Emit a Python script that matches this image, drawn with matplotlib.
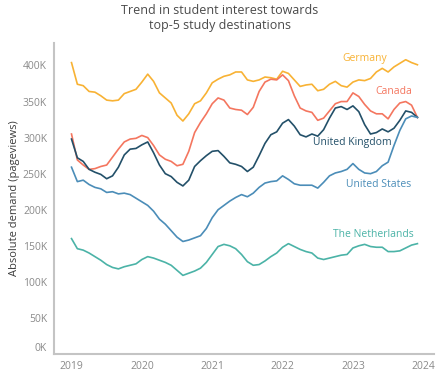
#!/usr/bin/env python3
"""Trend in student interest towards top-5 study destinations (monthly pageviews)."""
import matplotlib

matplotlib.use("Agg")
import matplotlib.pyplot as plt
from matplotlib.ticker import FuncFormatter

plt.rcParams["font.family"] = ["Open Sans", "DejaVu Sans"]

# monthly values, Jan 2019 .. Dec 2023, thousands of pageviews
months = [2019 + m / 12 for m in range(60)]

germany = [404, 374, 372, 364, 363, 358, 352, 351, 352, 361, 364, 367,
           377, 388, 378, 362, 355, 348, 331, 323, 333, 347, 351, 362,
           376, 381, 385, 387, 391, 391, 380, 378, 380, 384, 383, 381,
           392, 389, 380, 371, 373, 374, 365, 367, 374, 378, 372, 370,
           377, 380, 379, 382, 391, 396, 391, 398, 403, 408, 404, 401]
canada = [305, 269, 262, 256, 257, 260, 262, 273, 284, 294, 298, 299,
          303, 300, 289, 276, 270, 267, 261, 263, 281, 307, 321, 333,
          347, 355, 352, 341, 339, 338, 332, 342, 364, 377, 381, 380,
          387, 379, 358, 341, 337, 335, 324, 327, 337, 347, 350, 350,
          362, 357, 346, 337, 333, 333, 326, 339, 348, 350, 345, 328]
united_kingdom = [298, 272, 267, 256, 252, 249, 243, 247, 259, 276, 284, 285,
                  290, 294, 279, 262, 250, 246, 238, 233, 241, 260, 268, 275,
                  281, 282, 274, 265, 263, 260, 253, 259, 275, 292, 304, 308,
                  320, 325, 316, 304, 301, 305, 302, 311, 327, 341, 343, 339,
                  344, 336, 318, 305, 307, 312, 308, 313, 324, 337, 335, 328]
united_states = [259, 239, 241, 235, 231, 229, 224, 225, 222, 223, 221, 216,
                 211, 206, 198, 187, 180, 171, 162, 156, 158, 161, 164, 174,
                 189, 200, 206, 212, 217, 221, 218, 223, 231, 237, 239, 240,
                 247, 242, 236, 234, 234, 234, 230, 238, 247, 251, 253, 256,
                 264, 256, 251, 250, 253, 261, 266, 289, 310, 326, 330, 328]
netherlands = [160, 146, 144, 140, 135, 130, 124, 120, 118, 121, 123, 125,
               131, 135, 133, 130, 127, 123, 116, 109, 112, 115, 119, 127,
               138, 149, 152, 150, 146, 138, 128, 123, 124, 129, 135, 140,
               148, 153, 149, 145, 142, 140, 133, 131, 133, 135, 137, 138,
               147, 150, 152, 149, 148, 148, 142, 142, 143, 147, 151, 153]

countries = ["Germany", "Canada", "United Kingdom", "United States", "The Netherlands"]
series = [germany, canada, united_kingdom, united_states, netherlands]
colors = ["#F8B234", "#F4765F", "#235069", "#4B8DB8", "#4BB3A7"]
# label anchor (right edge x, centre y) in data coords
label_pos = [(2023.48, 409), (2023.85, 364), (2023.55, 293), (2023.83, 235), (2023.87, 166)]

years = [2019, 2020, 2021, 2022, 2023, 2024]
yticks = [0, 50, 100, 150, 200, 250, 300, 350, 400]

fig = plt.figure(figsize=(4.4, 3.75), dpi=100)
ax = fig.add_axes([0.123, 0.056, 0.863, 0.829])

for name, vals, col, (lx, ly) in zip(countries, series, colors, label_pos):
    ax.plot(months, vals, color=col, lw=1.2, solid_joinstyle="round")
    ax.text(lx, ly, name, color=col, fontsize=7.5, ha="right", va="center")

ax.set_xlim(2018.753, 2024.15)
ax.set_ylim(0, 431)
ax.set_xticks(years)
ax.set_xticklabels([str(y) for y in years])
ax.set_yticks(yticks)
ax.yaxis.set_major_formatter(FuncFormatter(lambda v, _: f"{int(v)}K"))
ax.tick_params(length=0, labelsize=7.5, labelcolor="#8a8a8a", pad=5)
for lab in ax.get_yticklabels():
    if lab.get_text() == "0K":
        lab.set_va("bottom")

for side in ["top", "right"]:
    ax.spines[side].set_visible(False)
for side in ["left", "bottom"]:
    ax.spines[side].set_color("#c4c4c4")
    ax.spines[side].set_linewidth(1.5)

ax.set_ylabel("Absolute demand (pageviews)", fontsize=8, color="#3c3c3c", labelpad=2)
fig.suptitle("Trend in student interest towards\ntop-5 study destinations",
             fontsize=9, color="#4a4a4a", y=0.99, linespacing=1.25)

fig.savefig("out.png", dpi=100)
plt.close(fig)
